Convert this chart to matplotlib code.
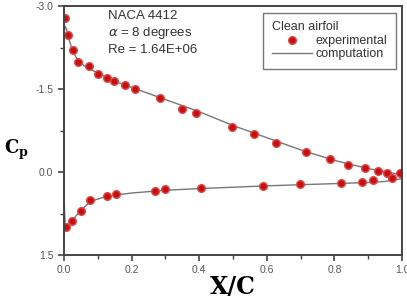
import matplotlib.pyplot as plt
import numpy as np

# experimental points (upper / lower surface)
x_up = [0.004, 0.011, 0.026, 0.043, 0.074, 0.100, 0.126, 0.148, 0.182, 0.211,
        0.284, 0.350, 0.390, 0.496, 0.562, 0.627, 0.715, 0.788, 0.839, 0.890,
        0.928, 0.954, 0.993]
cp_up = [-2.78, -2.47, -2.21, -1.99, -1.92, -1.78, -1.70, -1.65, -1.57, -1.50,
         -1.33, -1.14, -1.07, -0.81, -0.69, -0.53, -0.37, -0.24, -0.13, -0.07,
         -0.02, 0.01, 0.01]
x_lo = [0.005, 0.024, 0.050, 0.078, 0.127, 0.155, 0.268, 0.298, 0.404, 0.589,
        0.697, 0.818, 0.880, 0.915, 0.970]
cp_lo = [0.99, 0.89, 0.71, 0.51, 0.44, 0.40, 0.34, 0.31, 0.29, 0.25,
         0.22, 0.19, 0.18, 0.14, 0.10]

# computation
xc_up = [0.0, 0.004, 0.008, 0.015, 0.025, 0.04, 0.06, 0.08, 0.10, 0.15, 0.20,
         0.30, 0.40, 0.50, 0.60, 0.70, 0.80, 0.90, 0.95, 0.98, 1.0]
cpc_up = [-2.50, -2.63, -2.58, -2.40, -2.20, -2.03, -1.92, -1.85, -1.79, -1.64, -1.53,
          -1.31, -1.09, -0.84, -0.62, -0.40, -0.21, -0.06, -0.01, 0.03, 0.10]
xc_lo = [0.0, 0.004, 0.01, 0.024, 0.05, 0.08, 0.12, 0.16, 0.20, 0.30, 0.40,
         0.60, 0.80, 0.90, 0.95, 1.0]
cpc_lo = [0.38, 1.00, 0.97, 0.88, 0.69, 0.53, 0.45, 0.41, 0.38, 0.33, 0.30,
          0.25, 0.21, 0.19, 0.17, 0.12]

plt.rcParams['font.family'] = ['Liberation Sans', 'DejaVu Sans']

fig = plt.figure(figsize=(4.07, 3.0), dpi=100)
ax = fig.add_axes([0.157, 0.15, 0.831, 0.83])

line, = ax.plot(xc_up, cpc_up, color='#777777', lw=1.0, label='computation')
ax.plot(xc_lo, cpc_lo, color='#777777', lw=1.0)
pts, = ax.plot(x_up, cp_up, 'o', color='#c41010', mec='#e04848', ms=5.5, label='experimental')
ax.plot(x_lo, cp_lo, 'o', color='#c41010', mec='#e04848', ms=5.5)

ax.set_xlim(0, 1)
ax.set_ylim(1.5, -3.0)
ax.set_xticks([0, 0.2, 0.4, 0.6, 0.8, 1.0])
ax.set_xticklabels(['0.0', '0.2', '0.4', '0.6', '0.8', '1.0'])
ax.set_xticks(np.arange(0.1, 1.0, 0.2), minor=True)
ax.set_yticks([-3.0, -1.5, 0.0, 1.5])
ax.set_yticklabels(['-3.0', '-1.5', '0.0', '1.5'])
ax.set_yticks([-2.25, -0.75, 0.75], minor=True)
ax.tick_params(which='major', direction='out', length=4, width=1.2, color='#444444',
               labelsize=7.5, labelcolor='#555555')
ax.tick_params(which='minor', direction='out', length=3, width=1.0, color='#444444')
for s in ax.spines.values():
    s.set_color('#444444')
    s.set_linewidth(1.4)

ax.text(0.13, 0.985, 'NACA 4412\n$\\alpha$ = 8 degrees\nRe = 1.64E+06', transform=ax.transAxes,
        ha='left', va='top', fontsize=9.5, color='#333333', linespacing=1.3)

leg = ax.legend([pts, line], ['experimental', 'computation'], title='Clean airfoil',
                loc='upper right', bbox_to_anchor=(0.982, 0.973), fontsize=9,
                title_fontsize=9, alignment='left', frameon=True, fancybox=False,
                handlelength=3.2, handletextpad=0.3, borderpad=0.7, borderaxespad=0,
                labelspacing=0.12)
leg.get_frame().set_edgecolor('#555555')
leg.get_frame().set_linewidth(1.0)
leg.get_title().set_color('#333333')
for t in leg.get_texts():
    t.set_color('#333333')

fig.text(0.01, 0.5, '$\\mathbf{C}_\\mathbf{p}$', fontsize=13, family='DejaVu Serif',
         ha='left', va='center', math_fontfamily='dejavuserif')
fig.text(0.573, 0.045, 'X/C', fontsize=17, fontweight='bold', family='DejaVu Serif',
         ha='center', va='center')

fig.savefig('out.png', dpi=100)
